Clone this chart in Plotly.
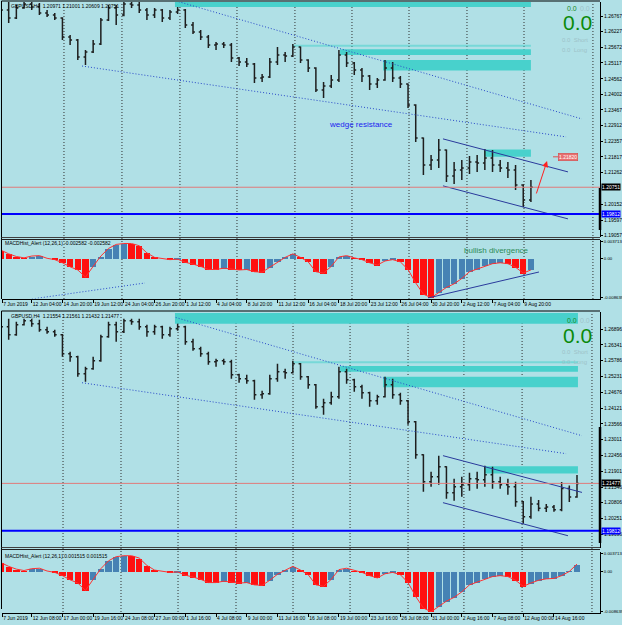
import plotly.graph_objects as go

W, H = 622, 625

# ---------------- data: GBPUSD H4, one candle per 4 H4 bars ----------------
open_ = [1.27118, 1.26978, 1.26697, 1.27048, 1.27188, 1.27083, 1.26872, 1.26802, 1.26697, 1.26029,
         1.25924, 1.25327, 1.25503, 1.25783, 1.26626, 1.27048, 1.26802, 1.27188, 1.27153, 1.26978,
         1.26802, 1.26978, 1.26697, 1.26907, 1.26978, 1.26451, 1.26205, 1.26029, 1.25748, 1.25783,
         1.25748, 1.25292, 1.25151, 1.25081, 1.24589, 1.24624, 1.25151, 1.25397, 1.25362, 1.25678,
         1.25221, 1.24941, 1.24167, 1.24308, 1.24519, 1.25397, 1.25116, 1.24870, 1.24659, 1.24378,
         1.24519, 1.24941, 1.24589, 1.24378, 1.23640, 1.22481, 1.21532, 1.21708, 1.22059, 1.21146,
         1.21357, 1.21427, 1.21638, 1.21603, 1.21779, 1.21532, 1.21427, 1.21357, 1.20830, 1.20303,
         1.20751, 1.20600, 1.20650, 1.20550, 1.21300, 1.21000]
high = [1.27224, 1.27259, 1.27153, 1.27259, 1.27259, 1.27224, 1.26978, 1.26872, 1.26720, 1.26099,
        1.25960, 1.25574, 1.25924, 1.26697, 1.27153, 1.27153, 1.27259, 1.27259, 1.27259, 1.27048,
        1.27048, 1.27010, 1.26978, 1.27083, 1.27010, 1.26556, 1.26275, 1.26099, 1.25854, 1.25854,
        1.25818, 1.25327, 1.25292, 1.25116, 1.24729, 1.25292, 1.25678, 1.25503, 1.25783, 1.25700,
        1.25250, 1.24970, 1.24448, 1.24694, 1.25574, 1.25503, 1.25151, 1.24941, 1.24694, 1.24589,
        1.25221, 1.25151, 1.24659, 1.24400, 1.23670, 1.22500, 1.21884, 1.22446, 1.22080, 1.21638,
        1.21708, 1.21849, 1.21884, 1.22094, 1.22059, 1.21708, 1.21638, 1.21532, 1.20860, 1.21005,
        1.20890, 1.20750, 1.20720, 1.21530, 1.21400, 1.21770]
low = [1.26837, 1.26521, 1.26660, 1.27020, 1.26978, 1.26802, 1.26732, 1.26626, 1.25924, 1.25748,
       1.25221, 1.25045, 1.25468, 1.25748, 1.26590, 1.26451, 1.26760, 1.27048, 1.26872, 1.26626,
       1.26697, 1.26556, 1.26626, 1.26837, 1.26345, 1.26135, 1.25924, 1.25643, 1.25574, 1.25643,
       1.25151, 1.25010, 1.24975, 1.24413, 1.24448, 1.24590, 1.25045, 1.25151, 1.25330, 1.25116,
       1.24800, 1.24097, 1.23886, 1.24237, 1.24448, 1.24975, 1.24694, 1.24448, 1.24167, 1.24237,
       1.24490, 1.24448, 1.24237, 1.23535, 1.22340, 1.21181, 1.21357, 1.21427, 1.20935, 1.20865,
       1.21005, 1.21216, 1.21287, 1.21357, 1.21287, 1.21287, 1.21076, 1.20654, 1.20057, 1.20233,
       1.20500, 1.20470, 1.20480, 1.20500, 1.20820, 1.20970]
close = [1.26978, 1.26697, 1.27048, 1.27188, 1.27083, 1.26872, 1.26802, 1.26697, 1.26029, 1.25924,
         1.25327, 1.25503, 1.25783, 1.26626, 1.27048, 1.26802, 1.27188, 1.27153, 1.26978, 1.26802,
         1.26978, 1.26697, 1.26907, 1.26978, 1.26451, 1.26205, 1.26029, 1.25748, 1.25783, 1.25748,
         1.25292, 1.25151, 1.25081, 1.24589, 1.24624, 1.25151, 1.25397, 1.25362, 1.25678, 1.25221,
         1.24941, 1.24167, 1.24308, 1.24519, 1.25397, 1.25116, 1.24870, 1.24659, 1.24378, 1.24519,
         1.24941, 1.24589, 1.24378, 1.23640, 1.22481, 1.21532, 1.21708, 1.22059, 1.21146, 1.21357,
         1.21427, 1.21638, 1.21603, 1.21779, 1.21532, 1.21427, 1.21357, 1.20830, 1.20303, 1.20751,
         1.20600, 1.20650, 1.20550, 1.21300, 1.21000, 1.21477]
macd = [0.0018, 0.0010, 0.0004, 0.0001, 0.0005, 0.0006, 0.0000, -0.0003, -0.0010, -0.0019,
        -0.0026, -0.0042, -0.0018, 0.0005, 0.0022, 0.0031, 0.0033, 0.0033, 0.0028, 0.0012,
        0.0002, 0.0000, -0.0003, -0.0002, -0.0009, -0.0013, -0.0018, -0.0025, -0.0025, -0.0022,
        -0.0024, -0.0026, -0.0025, -0.0030, -0.0031, -0.0020, -0.0007, 0.0002, 0.0010, 0.0002,
        -0.0008, -0.0030, -0.0033, -0.0018, 0.0003, 0.0006, 0.0001, -0.0003, -0.0010, -0.0015,
        -0.0006, -0.0003, -0.0008, -0.0025, -0.0055, -0.0080, -0.0088, -0.0076, -0.0065, -0.0057,
        -0.0045, -0.0030, -0.0024, -0.0017, -0.0012, -0.0010, -0.0012, -0.0020, -0.0033, -0.0026,
        -0.0020, -0.0017, -0.0016, -0.0010, -0.0001, 0.0015]
top_count = 70  # candles present in the upper screenshot

top_time_labels = ["7 Jun 2019", "12 Jun 04:00", "14 Jun 20:00", "19 Jun 12:00", "24 Jun 04:00",
                   "26 Jun 20:00", "1 Jul 12:00", "4 Jul 04:00", "8 Jul 20:00", "11 Jul 12:00",
                   "16 Jul 04:00", "18 Jul 20:00", "23 Jul 12:00", "26 Jul 04:00", "30 Jul 20:00",
                   "2 Aug 12:00", "7 Aug 04:00", "9 Aug 20:00"]
bottom_time_labels = ["7 Jun 2019", "12 Jun 08:00", "17 Jun 00:00", "19 Jun 16:00", "24 Jun 08:00",
                      "27 Jun 00:00", "1 Jul 16:00", "4 Jul 08:00", "9 Jul 00:00", "11 Jul 16:00",
                      "16 Jul 08:00", "19 Jul 00:00", "23 Jul 16:00", "26 Jul 08:00", "31 Jul 00:00",
                      "2 Aug 16:00", "7 Aug 08:00", "12 Aug 00:00", "14 Aug 16:00"]
top_price_ticks = [1.26767, 1.26227, 1.25672, 1.25117, 1.24562, 1.24002, 1.23467, 1.22912,
                   1.22357, 1.21817, 1.21262, 1.20152, 1.19597, 1.19057]
bottom_price_ticks = [1.26896, 1.26341, 1.25786, 1.25231, 1.24676, 1.24121, 1.23566, 1.23011,
                      1.22456, 1.21901, 1.21346, 1.20806, 1.20251, 1.19696, 1.19141]
macd_ticks = [0.003713, 0.0, -0.008639]
macd_tick_text = ["0.003713", "0.00", "-0.008639"]

week_sep_top = [32.8, 63.0, 93.2, 122.9, 153.1, 182.8, 212.5, 242.7, 272.4, 308.3]
week_sep_bottom = [32.3, 62.5, 92.2, 122.4, 152.1, 181.8, 212.0, 241.1, 271.4, 307.8]

current_top = 1.20751
current_bottom = 1.21477
support_level = 1.19812
target_level = 1.21820

# supply zones: (start bar, low price, high price)
zones = [(90.6, 1.2708, 1.2746), (152.0, 1.2569, 1.2576), (176.6, 1.2540, 1.2560),
         (199.0, 1.2485, 1.2522), (252.0, 1.2182, 1.2208)]
wedge_upper = [(91.0, 1.2730), (302.6, 1.2315)]
wedge_lower = [(42.2, 1.2501), (294.3, 1.2252)]
channel_upper = [(230.2, 1.2245), (295.3, 1.2129), (302.6, 1.2116)]
channel_lower = [(230.2, 1.2080), (295.3, 1.1964)]
macd_div_line = [(222.4, -0.00886), (280.2, -0.00306)]
macd_dotted = [(16.1, -0.00908), (75.0, -0.00551)]
arrow_line = [(278.6, 1.2048), (284.4, 1.2167)]

# ---------------- figure ----------------
BG = "#b0e0e6"
FONT = "Liberation Sans, Arial, sans-serif"
TEAL = "#48d1cc"
FINE_DOT = "1px,2px"
bars = [4 * k for k in range(len(close))]


def macd_colors(vals):
    out = []
    for i, v in enumerate(vals):
        prev = vals[i - 1] if i else vals[0]
        out.append("#4682b4" if v > prev else "#ff1010")
    return out


def P(px, py):
    return px / W, 1 - py / H


fig = go.Figure()
for (n, xa, ya, xm, ym) in [(top_count, "x", "y", "x2", "y2"), (len(close), "x3", "y3", "x4", "y4")]:
    fig.add_trace(go.Ohlc(x=bars[:n], open=open_[:n], high=high[:n], low=low[:n], close=close[:n],
                          increasing=dict(line=dict(color="#1e1e1e", width=1.5)),
                          decreasing=dict(line=dict(color="#1e1e1e", width=1.5)),
                          tickwidth=0.25, xaxis=xa, yaxis=ya, hoverinfo="skip", showlegend=False))
    fig.add_trace(go.Bar(x=bars[:n], y=macd[:n], width=3.3, marker=dict(color=macd_colors(macd[:n]), line=dict(width=0)),
                         xaxis=xm, yaxis=ym, hoverinfo="skip", showlegend=False))
    fig.add_trace(go.Scatter(x=bars[:n], y=macd[:n], mode="lines", line=dict(color="#ff3030", width=1),
                             xaxis=xm, yaxis=ym, hoverinfo="skip", showlegend=False))

X_DOM = [2 / W, 600 / W]
X_RANGE = [0.52, 311.98]


def ydom(t, b):
    return [1 - b / H, 1 - t / H]


def xax(anchor, labels=None):
    d = dict(domain=X_DOM, range=X_RANGE, anchor=anchor, showgrid=False, zeroline=False,
             fixedrange=True, rangeslider=dict(visible=False), automargin=False)
    if labels is None:
        d.update(showticklabels=False, ticks="", showline=False)
    else:
        d.update(tickmode="array", tickvals=[max(16 * i, 0.6) for i in range(len(labels))], ticktext=labels,
                 ticks="outside", ticklen=3, tickcolor="black", ticklabelposition="outside right",
                 tickangle=0, tickfont=dict(size=5, color="black", family=FONT), showline=True,
                 linecolor="black", linewidth=1)
    return d


def yax(anchor, dom, rng, vals, text, size=5):
    return dict(domain=dom, range=rng, anchor=anchor, side="right", showgrid=False, zeroline=False,
                fixedrange=True, tickmode="array", tickvals=vals, ticktext=text, ticks="outside",
                ticklen=2, tickcolor="black", tickfont=dict(size=size, color="black", family=FONT),
                showline=True, linecolor="black", linewidth=1, automargin=False)


fig.update_layout(
    width=W, height=H, margin=dict(l=0, r=0, t=0, b=0, autoexpand=False), paper_bgcolor=BG, plot_bgcolor=BG,
    showlegend=False, bargap=0, font=dict(family=FONT),
    xaxis=xax("y"), xaxis2=xax("y2", top_time_labels),
    xaxis3=xax("y3"), xaxis4=xax("y4", bottom_time_labels),
    yaxis=yax("x", ydom(2, 237), [1.19003, 1.27259], top_price_ticks, [f"{v:.5f}" for v in top_price_ticks]),
    yaxis2=yax("x2", ydom(239.5, 298.5), [-0.008973, 0.004196], macd_ticks, macd_tick_text, 4.3),
    yaxis3=yax("x3", ydom(312, 548), [1.19209, 1.27493], bottom_price_ticks, [f"{v:.5f}" for v in bottom_price_ticks]),
    yaxis4=yax("x4", ydom(551.5, 612.5), [-0.008963, 0.004212], macd_ticks, macd_tick_text, 4.3),
)

shapes = []
ann = []


def line(xr, yr, p0, p1, color, width=1, dash="solid"):
    shapes.append(dict(type="line", xref=xr, yref=yr, x0=p0[0], y0=p0[1], x1=p1[0], y1=p1[1],
                       line=dict(color=color, width=width, dash=dash)))


def pline(x0, y0, x1, y1, color="black", width=1, dash="solid"):
    a, b = P(x0, y0)
    c, d = P(x1, y1)
    shapes.append(dict(type="line", xref="paper", yref="paper", x0=a, y0=b, x1=c, y1=d,
                       line=dict(color=color, width=width, dash=dash)))


def ptext(px, py, text, size=5, color="black", xanchor="left", **kw):
    x, y = P(px, py)
    ann.append(dict(xref="paper", yref="paper", x=x, y=y, text=text, showarrow=False, xanchor=xanchor,
                    yanchor="middle", font=dict(size=size, color=color, family=FONT), **kw))


for (xa, ya, xm, ym, seps, end_bar, cur, t0, lab_hdr, lab_macd, macd_hdr) in [
    ("x", "y", "x2", "y2", week_sep_top, 276.0, current_top, 0,
     "GBPUSD,H4  1.20971 1.21001 1.20609 1.20751", 243, "MACDHist_Alert (12,26,1) -0.002582 -0.002582"),
    ("x3", "y3", "x4", "y4", week_sep_bottom, 300.5, current_bottom, 310,
     "GBPUSD,H4  1.21554 1.21561 1.21432 1.21477", 556, "MACDHist_Alert (12,26,1) 0.001515 0.001515"),
]:
    # week separators (dotted) through both panes
    for s in seps:
        shapes.append(dict(type="line", xref=xa, yref="paper", x0=s, x1=s,
                           y0=1 - (t0 + 299 + (3 if t0 else 0)) / H, y1=1 - (t0 + 2) / H,
                           line=dict(color="#303030", width=1, dash=FINE_DOT), layer="below"))
    # zones
    for i, (b0, lo, hi) in enumerate(zones):
        shapes.append(dict(type="rect", xref=xa, yref=ya, x0=b0, x1=end_bar, y0=lo, y1=hi,
                           fillcolor=TEAL, opacity=0.55 if i == 1 else 1.0, line=dict(width=0), layer="below"))
    # wedge lines
    line(xa, ya, wedge_upper[0], wedge_upper[1], "#2848c8", 1, FINE_DOT)
    line(xa, ya, wedge_lower[0], wedge_lower[1], "#2848c8", 1, FINE_DOT)
    # channel
    line(xa, ya, channel_upper[0], channel_upper[1] if xa == "x" else channel_upper[2], "#2a3a9c", 1)
    line(xa, ya, channel_lower[0], channel_lower[1], "#2a3a9c", 1)
    # horizontal levels
    shapes.append(dict(type="line", xref="paper", yref=ya, x0=X_DOM[0], x1=X_DOM[1], y0=cur, y1=cur,
                       line=dict(color="#e07a7a", width=1)))
    shapes.append(dict(type="line", xref="paper", yref=ya, x0=X_DOM[0], x1=X_DOM[1], y0=support_level,
                       y1=support_level, line=dict(color="#0000ff", width=2)))
    # price boxes on axis
    ann.append(dict(xref="paper", yref=ya, x=601 / W, y=cur, text=f"{cur:.5f}", showarrow=False,
                    xanchor="left", yanchor="middle", bgcolor="black", borderpad=0,
                    font=dict(size=5, color="white", family=FONT)))
    ann.append(dict(xref="paper", yref=ya, x=601 / W, y=support_level, text=f"{support_level:.5f}",
                    showarrow=False, xanchor="left", yanchor="middle", bgcolor="#0000ff", borderpad=0,
                    font=dict(size=5, color="white", family=FONT)))
    # frames
    pline(1.5, t0 + 1, 600, t0 + 1)
    pline(1.5, t0 + 1, 1.5, t0 + 299)
    pline(1.5, t0 + 237.5, 600, t0 + 237.5, "#404040")
    pline(1.5, t0 + 239.5, 600, t0 + 239.5, "#202020")
    # headers
    ptext(9, t0 + 6, lab_hdr)
    ptext(3, lab_macd, macd_hdr)
    # top right counters
    ptext(572, t0 + 8 + (2 if t0 else 0), "0.0", 7, "#1a8a1a", "center")
    ptext(585, t0 + 8 + (2 if t0 else 0), "0.0", 7, "#9ec3c9", "center")
    ptext(577, t0 + 22 + (3 if t0 else 0), "0.0", 21, "#0a8a0a", "center")
    ptext(560, t0 + 40 + (2 if t0 else 0), "0.0  Short", 6, "#9ec3c9")
    ptext(560, t0 + 50 + (2 if t0 else 0), "0.0  Long", 6, "#9ec3c9")

# thick bar on right axis
pline(600, 188, 600, 230, "black", 2.5)
pline(600, 427, 600, 543, "black", 2.5)

# top-chart-only drawings
line("x2", "y2", macd_div_line[0], macd_div_line[1], "#2a3a9c", 1)
line("x2", "y2", macd_dotted[0], macd_dotted[1], "#2848c8", 1, FINE_DOT)
ann.append(dict(xref="x", yref="y", axref="x", ayref="y", x=arrow_line[1][0], y=arrow_line[1][1],
                ax=arrow_line[0][0], ay=arrow_line[0][1], showarrow=True, arrowhead=2, arrowsize=1.2,
                arrowwidth=1, arrowcolor="#ff2020", text=""))
shapes.append(dict(type="line", xref="paper", yref="y", x0=553 / W, x1=558 / W, y0=target_level,
                   y1=target_level, line=dict(color="#e05050", width=1)))
ann.append(dict(xref="paper", yref="y", x=558 / W, y=target_level, text=f"{target_level:.5f}",
                showarrow=False, xanchor="left", yanchor="middle", bgcolor="#e87070", bordercolor="#d04040",
                borderwidth=0.5, borderpad=0.5, font=dict(size=5, color="white", family=FONT)))
ptext(327, 124, "wedge resistance", 8, "#1c1cf0")
ptext(462, 251, "bullish divergence", 8, "#2e8b57")

fig.update_layout(shapes=shapes, annotations=ann)
fig.write_html("out.html")
